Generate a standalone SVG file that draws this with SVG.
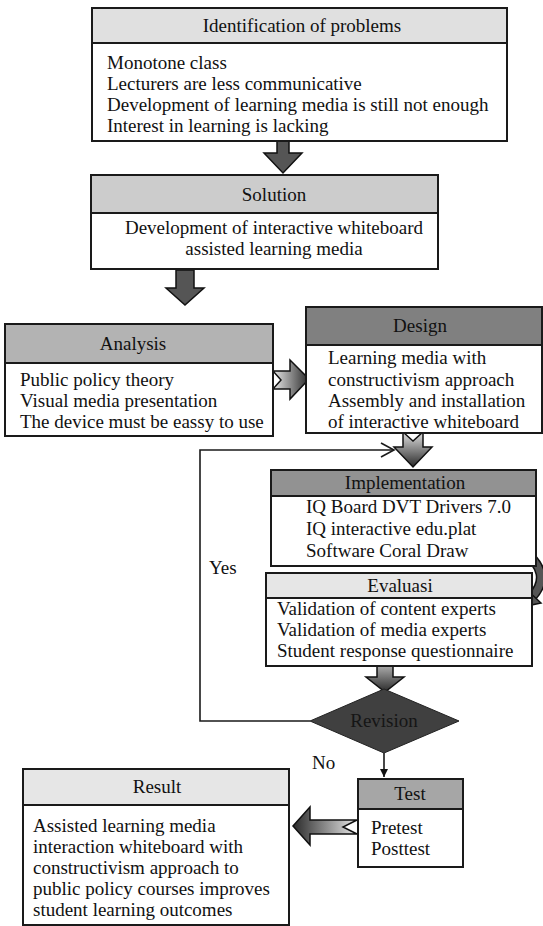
<svg xmlns="http://www.w3.org/2000/svg" width="543" height="926" viewBox="0 0 543 926">
<style>
.box{fill:#fff;stroke:#1a1a1a;stroke-width:2}
.hdr{stroke:#1a1a1a;stroke-width:2}
text{font-family:"Liberation Serif","Times New Roman",serif;font-size:19px;fill:#111}
.c{text-anchor:middle}
.line{fill:none;stroke:#1a1a1a;stroke-width:1.6}
.solid{fill:#555;stroke:#111;stroke-width:1.5}
.ga{stroke:#111;stroke-width:1.5}
</style>
<defs>
<linearGradient id="gR" x1="0" y1="0" x2="1" y2="0"><stop offset="0" stop-color="#e8e8e8"/><stop offset="1" stop-color="#2a2a2a"/></linearGradient>
<linearGradient id="gD" x1="0" y1="0" x2="0" y2="1"><stop offset="0" stop-color="#e0e0e0"/><stop offset="1" stop-color="#2a2a2a"/></linearGradient>
<linearGradient id="gL" x1="1" y1="0" x2="0" y2="0"><stop offset="0" stop-color="#e8e8e8"/><stop offset="1" stop-color="#2a2a2a"/></linearGradient>
<marker id="tri" viewBox="0 0 10 10" refX="10" refY="5" markerWidth="5" markerHeight="5" orient="auto"><path d="M0,0 L10,5 L0,10 Z" fill="#111"/></marker>
</defs>

<g id="connectors">
<polygon class="solid" points="277,141 289,141 289,153 302,153 283,173 264,153 277,153"/>
<polygon class="solid" points="176,270 194,270 194,288 204,288 185,305 166,288 176,288"/>
<polygon class="ga" fill="url(#gR)" points="273,371 290,371 290,360 309,379 290,399 290,389 273,389 281,380"/>
<polyline class="line" points="310,721 200,721 200,450 393,450"/>
<polyline class="line" points="381,443 394,450 381,457"/>
<polygon class="ga" fill="url(#gD)" points="403,432 413,441 423,432 423,447 432,447 413,467 394,447 403,447"/>
<path d="M524 551 Q553 574 532 597" fill="none" stroke="#111" stroke-width="10"/>
<path d="M524 551 Q553 574 532 597" fill="none" stroke="#555" stroke-width="7"/>
<polygon class="solid" points="541,603 522,607 525,588"/>
<polygon class="ga" fill="url(#gD)" points="377,655 385,664 393,655 393,677 404,677 385,692 366,677 377,677"/>
<line class="line" x1="384" y1="753" x2="384" y2="777" marker-end="url(#tri)"/>
<polygon class="ga" fill="url(#gL)" points="293,826 310,807 310,820 357,820 343,827 357,834 310,834 310,845"/>
<text x="209" y="574">Yes</text>
<text x="312" y="769">No</text>
</g>

<g id="identification">
<rect class="box" x="92" y="8" width="415" height="133"/>
<rect class="hdr" x="92" y="8" width="415" height="35" fill="#e0e0e0"/>
<text class="c" x="302" y="32">Identification of problems</text>
<text x="107" y="69">Monotone class</text>
<text x="107" y="90">Lecturers are less communicative</text>
<text x="107" y="111">Development of learning media is still not enough</text>
<text x="107" y="132">Interest in learning is lacking</text>
</g>

<g id="solution">
<rect class="box" x="91" y="175" width="347" height="94"/>
<rect class="hdr" x="91" y="175" width="347" height="38" fill="#cccccc"/>
<text class="c" x="274" y="201">Solution</text>
<text class="c" x="274" y="234">Development of interactive whiteboard</text>
<text class="c" x="274" y="255">assisted learning media</text>
</g>

<g id="analysis">
<rect class="box" x="5" y="324" width="268" height="112"/>
<rect class="hdr" x="5" y="324" width="268" height="39" fill="#b3b3b3"/>
<text class="c" x="133" y="350">Analysis</text>
<text x="20" y="386">Public policy theory</text>
<text x="20" y="407">Visual media presentation</text>
<text x="20" y="428">The device must be eassy to use</text>
</g>

<g id="design">
<rect class="box" x="306" y="307" width="236" height="126"/>
<rect class="hdr" x="306" y="307" width="236" height="38" fill="#808080"/>
<text class="c" x="420" y="332">Design</text>
<text x="328" y="364">Learning media with</text>
<text x="328" y="386">constructivism approach</text>
<text x="328" y="407">Assembly and installation</text>
<text x="328" y="428">of interactive whiteboard</text>
</g>

<g id="implementation">
<rect class="box" x="271" y="470" width="265" height="96"/>
<rect class="hdr" x="271" y="470" width="265" height="26" fill="#929292"/>
<text class="c" x="405" y="489">Implementation</text>
<text x="306" y="513">IQ Board DVT Drivers 7.0</text>
<text x="306" y="535">IQ interactive edu.plat</text>
<text x="306" y="557">Software Coral Draw</text>
</g>

<g id="evaluasi">
<rect class="box" x="266" y="573" width="266" height="93"/>
<rect class="hdr" x="266" y="573" width="266" height="25" fill="#e6e6e6"/>
<text class="c" x="400" y="592">Evaluasi</text>
<text x="277" y="615">Validation of content experts</text>
<text x="277" y="636">Validation of media experts</text>
<text x="277" y="657">Student response questionnaire</text>
</g>

<g id="revision">
<polygon points="310,721 384,689 459,721 384,753" fill="#404040" stroke="#222" stroke-width="1"/>
<text class="c" x="384" y="727" style="fill:#151515">Revision</text>
</g>

<g id="test">
<rect class="box" x="358" y="779" width="105" height="88"/>
<rect class="hdr" x="358" y="779" width="105" height="30" fill="#a6a6a6"/>
<text class="c" x="410" y="800">Test</text>
<text x="371" y="834">Pretest</text>
<text x="371" y="855">Posttest</text>
</g>

<g id="result">
<rect class="box" x="23" y="769" width="266" height="156"/>
<rect class="hdr" x="23" y="769" width="266" height="36" fill="#e6e6e6"/>
<text class="c" x="157" y="793">Result</text>
<text x="33" y="832">Assisted learning media</text>
<text x="33" y="853">interaction whiteboard with</text>
<text x="33" y="874">constructivism approach to</text>
<text x="33" y="895">public policy courses improves</text>
<text x="33" y="916">student learning outcomes</text>
</g>
</svg>
